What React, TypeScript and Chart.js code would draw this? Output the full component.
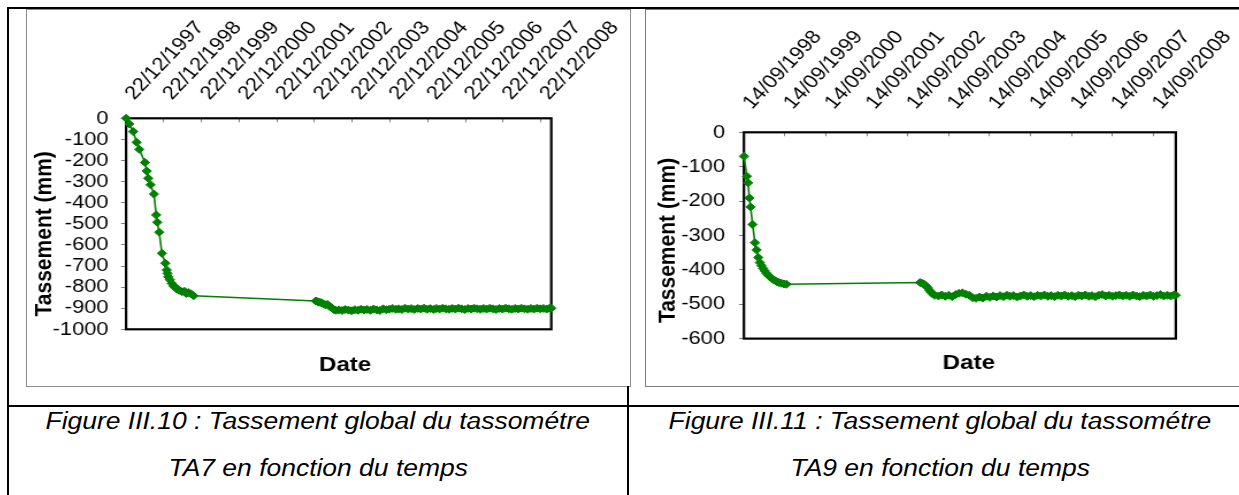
import React, { useEffect, useRef } from 'react';
import { Chart, registerables } from 'chart.js';

Chart.register(...registerables);

const FONT = "'Liberation Sans', Arial, Helvetica, sans-serif";
const STRETCH = 1.15;
const GREEN = '#008000';

// ---------- TA7 (Figure III.10) ----------
const ta7Dates = [
  '22/12/1997', '23/01/1998', '01/03/1998', '03/04/1998', '29/04/1998', '23/06/1998',
  '11/07/1998', '25/07/1998', '16/08/1998', '18/09/1998', '10/10/1998', '20/10/1998',
  '08/11/1998', '04/12/1998', '06/01/1999', '20/01/1999', '27/01/1999', '04/02/1999',
  '19/02/1999', '09/03/1999', '27/03/1999', '11/04/1999', '29/04/1999', '21/05/1999',
  '16/06/1999', '11/07/1999', '29/07/1999', '17/08/1999', '11/09/1999', '07/10/1999',
  '02/01/2003', '20/01/2003', '05/02/2003', '25/02/2003', '15/03/2003', '05/04/2003',
  '25/04/2003', '15/05/2003', '05/06/2003', '25/06/2003', '15/07/2003',
  '15/08/2003', '15/09/2003', '15/10/2003', '15/11/2003', '15/12/2003',
  '15/01/2004', '15/02/2004', '15/03/2004', '15/04/2004', '15/05/2004', '15/06/2004',
  '15/07/2004', '15/08/2004', '15/09/2004', '15/10/2004', '15/11/2004', '15/12/2004',
  '15/01/2005', '15/02/2005', '15/03/2005', '15/04/2005', '15/05/2005', '15/06/2005',
  '15/07/2005', '15/08/2005', '15/09/2005', '15/10/2005', '15/11/2005', '15/12/2005',
  '15/01/2006', '15/02/2006', '15/03/2006', '15/04/2006', '15/05/2006', '15/06/2006',
  '15/07/2006', '15/08/2006', '15/09/2006', '15/10/2006', '15/11/2006', '15/12/2006',
  '15/01/2007', '15/02/2007', '15/03/2007', '15/04/2007', '15/05/2007', '15/06/2007',
  '15/07/2007', '15/08/2007', '15/09/2007', '15/10/2007', '15/11/2007', '15/12/2007',
  '15/01/2008', '15/02/2008', '15/03/2008', '15/04/2008', '15/05/2008', '15/06/2008',
  '15/07/2008', '15/08/2008', '15/09/2008', '15/10/2008', '15/11/2008', '15/12/2008',
  '15/01/2009', '15/02/2009', '15/03/2009', '01/04/2009',
];
const ta7Values = [
  0, -27, -63, -114, -147, -209,
  -250, -284, -315, -359, -458, -493,
  -540, -640, -687, -719, -735, -751,
  -765, -782, -795, -800, -810, -815,
  -822, -820, -830, -826, -832, -841,
  -866, -869, -872, -874, -879, -884,
  -882, -891, -898, -906, -910,
  -908, -911, -906, -909, -912,
  -907, -910, -905, -909, -906, -910,
  -904, -908, -911, -903, -907, -905,
  -901, -905, -903, -906, -900, -904,
  -902, -906, -901, -904, -900, -905,
  -902, -906, -901, -904, -900, -903,
  -905, -901, -904, -900, -903, -906,
  -901, -904, -900, -903, -905, -901,
  -904, -900, -903, -906, -901, -904,
  -900, -903, -905, -901, -904, -900,
  -903, -905, -901, -904, -900, -903,
  -901, -904, -900, -900,
];
const ta7TickLabels = [
  '22/12/1997', '22/12/1998', '22/12/1999', '22/12/2000', '22/12/2001', '22/12/2002',
  '22/12/2003', '22/12/2004', '22/12/2005', '22/12/2006', '22/12/2007', '22/12/2008',
];
const ta7AxisEnd = '01/04/2009';
const ta7YMin = -1000;

// ---------- TA9 (Figure III.11) ----------
const ta9Dates = [
  '14/09/1998', '10/10/1998', '21/10/1998', '01/11/1998', '12/11/1998', '30/11/1998',
  '21/12/1998', '05/01/1999', '20/01/1999', '03/02/1999', '18/02/1999', '04/03/1999',
  '18/03/1999', '02/04/1999', '16/04/1999', '04/05/1999', '19/05/1999', '10/06/1999',
  '01/07/1999', '23/07/1999', '14/08/1999', '05/09/1999', '28/09/1999',
  '02/01/2003', '25/01/2003', '11/02/2003', '28/02/2003', '14/03/2003', '28/03/2003',
  '12/04/2003', '26/04/2003', '11/05/2003',
  '15/06/2003', '15/07/2003', '15/08/2003', '15/09/2003', '15/10/2003', '15/11/2003', '15/12/2003',
  '15/01/2004', '15/02/2004', '15/03/2004', '15/04/2004', '15/05/2004', '15/06/2004',
  '15/07/2004', '15/08/2004', '15/09/2004', '15/10/2004', '15/11/2004', '15/12/2004',
  '15/01/2005', '15/02/2005', '15/03/2005', '15/04/2005', '15/05/2005', '15/06/2005',
  '15/07/2005', '15/08/2005', '15/09/2005', '15/10/2005', '15/11/2005', '15/12/2005',
  '15/01/2006', '15/02/2006', '15/03/2006', '15/04/2006', '15/05/2006', '15/06/2006',
  '15/07/2006', '15/08/2006', '15/09/2006', '15/10/2006', '15/11/2006', '15/12/2006',
  '15/01/2007', '15/02/2007', '15/03/2007', '15/04/2007', '15/05/2007', '15/06/2007',
  '15/07/2007', '15/08/2007', '15/09/2007', '15/10/2007', '15/11/2007', '15/12/2007',
  '15/01/2008', '15/02/2008', '15/03/2008', '15/04/2008', '15/05/2008', '15/06/2008',
  '15/07/2008', '15/08/2008', '15/09/2008', '15/10/2008', '15/11/2008', '15/12/2008',
  '15/01/2009', '15/02/2009', '15/03/2009', '01/04/2009',
];
const ta9Values = [
  -70, -128, -147, -191, -217, -268,
  -321, -342, -364, -379, -388, -396,
  -403, -410, -415, -420, -425, -430,
  -434, -437, -439, -441, -442,
  -437, -440, -443, -448, -453, -460,
  -466, -470, -474,
  -476, -473, -477, -474, -478, -472, -468,
  -467, -471, -474, -481, -483, -479,
  -482, -477, -480, -476, -479, -475,
  -478, -474, -477, -475, -479, -476,
  -473, -477, -475, -478, -474, -476,
  -473, -477, -475, -478, -474, -476,
  -473, -477, -475, -478, -474, -476,
  -473, -477, -475, -478, -474, -472,
  -476, -474, -477, -475, -473, -476,
  -474, -477, -473, -476, -478, -474,
  -476, -473, -477, -475, -472, -476,
  -474, -476, -473, -474,
];
const ta9TickLabels = [
  '14/09/1998', '14/09/1999', '14/09/2000', '14/09/2001', '14/09/2002', '14/09/2003',
  '14/09/2004', '14/09/2005', '14/09/2006', '14/09/2007', '14/09/2008',
];
const ta9AxisEnd = '01/04/2009';
const ta9YMin = -600;

const yAxisTitle = 'Tassement (mm)';
const xAxisTitle = 'Date';
const captionTA7 = ['Figure III.10 : Tassement global du tassométre', 'TA7 en fonction du temps'];
const captionTA9 = ['Figure III.11 : Tassement global du tassométre', 'TA9 en fonction du temps'];

const dayOf = (s: string) => {
  const [d, m, y] = s.split('/').map(Number);
  return Date.UTC(y, m - 1, d) / 86400000;
};

// Draws the black plot frame, and nudges the axis-title boxes (not the data scales).
const framePlugin = {
  id: 'plotFrame',
  afterLayout(chart: any, _args: any, opts: any) {
    const xb = chart.scales.xb;
    if (xb && opts && opts.dateShift) {
      xb.left += opts.dateShift;
      xb.right += opts.dateShift;
    }
    const y = chart.scales.y;
    if (y && opts && opts.yTitleShift) {
      y.top += opts.yTitleShift;
      y.bottom += opts.yTitleShift;
    }
  },
  beforeDatasetsDraw(chart: any, _args: any, opts: any) {
    const { ctx, chartArea: a } = chart;
    ctx.save();
    ctx.strokeStyle = '#000';
    ctx.lineWidth = (opts && opts.lineWidth) || 2;
    ctx.strokeRect(a.left, a.top, a.right - a.left, a.bottom - a.top);
    ctx.restore();
  },
};

type Geom = {
  W: number; H: number; left: number;
  yWidth: number; xHeight: number; bottomH: number; padRight: number;
  yTitlePad: number; yTitleShift: number; yTickPad: number; xTickPad: number; xLabelOffset: number;
  dateShift: number; datePad: number;
};

const geomTA7: Geom = {
  W: 525, H: 379, left: 27,
  yWidth: 86.1, xHeight: 109.3, bottomH: 58.7, padRight: 69.3,
  yTitlePad: 3.1, yTitleShift: 10, yTickPad: 10.9, xTickPad: 17.9, xLabelOffset: 20.5,
  dateShift: 5.6, datePad: 10.4,
};
const geomTA9: Geom = {
  W: 522, H: 378, left: 646,
  yWidth: 85.2, xHeight: 123.3, bottomH: 48.4, padRight: 61.1,
  yTitlePad: 6.9, yTitleShift: 5, yTickPad: 12.1, xTickPad: 22.6, xLabelOffset: 20.5,
  dateShift: 7.8, datePad: 10.7,
};

function TassementChart(props: {
  dates: string[]; values: number[]; tickLabels: string[]; axisEnd: string; yMin: number; geom: Geom;
}) {
  const { dates, values, tickLabels, axisEnd, yMin, geom } = props;
  const ref = useRef<HTMLCanvasElement>(null);
  useEffect(() => {
    const tickDays = tickLabels.map(dayOf);
    const chart = new Chart(ref.current as HTMLCanvasElement, {
      type: 'line',
      data: {
        datasets: [
          {
            data: dates.map((d, i) => ({ x: dayOf(d), y: values[i] })),
            borderColor: GREEN,
            backgroundColor: GREEN,
            borderWidth: 1.6,
            pointStyle: 'rectRot',
            pointRadius: 4,
            pointBorderWidth: 1,
            pointBackgroundColor: GREEN,
            pointBorderColor: GREEN,
            tension: 0,
            clip: false,
          } as any,
        ],
      },
      options: {
        responsive: false,
        animation: false,
        events: [],
        layout: { padding: { left: 0, top: 0, bottom: 0, right: geom.padRight } },
        plugins: {
          legend: { display: false },
          tooltip: { enabled: false },
          plotFrame: { lineWidth: 2.2, dateShift: geom.dateShift, yTitleShift: geom.yTitleShift },
        } as any,
        scales: {
          x: {
            type: 'linear',
            position: 'top',
            min: tickDays[0],
            max: dayOf(axisEnd),
            afterBuildTicks: (s: any) => {
              s.ticks = tickDays.map((v) => ({ value: v }));
            },
            afterFit: (s: any) => {
              s.height = geom.xHeight;
              s.paddingLeft = 0;
              s.paddingRight = 0;
            },
            grid: { display: true, drawOnChartArea: false, drawTicks: true, tickLength: -4, color: '#808080', lineWidth: 1 },
            border: { display: false },
            ticks: {
              autoSkip: false,
              minRotation: 50,
              maxRotation: 50,
              padding: geom.xTickPad,
              labelOffset: geom.xLabelOffset,
              color: '#000',
              font: { family: FONT, size: 19 },
              callback: (_v: any, i: number) => tickLabels[i],
            },
          },
          xb: {
            type: 'linear',
            axis: 'x',
            position: 'bottom',
            grid: { display: false },
            border: { display: false },
            ticks: { display: false },
            afterFit: (s: any) => {
              s.height = geom.bottomH;
              s.paddingLeft = 0;
              s.paddingRight = 0;
            },
            title: {
              display: true,
              text: xAxisTitle,
              color: '#000',
              font: { family: FONT, size: 21, weight: 'bold' },
              padding: { top: 0, bottom: geom.datePad },
            },
          },
          y: {
            type: 'linear',
            position: 'left',
            min: yMin,
            max: 0,
            ticks: {
              stepSize: 100,
              autoSkip: false,
              padding: geom.yTickPad,
              color: '#000',
              font: { family: FONT, size: 19 },
              callback: (v: any) => String(v),
            },
            grid: { display: true, drawOnChartArea: false, drawTicks: true, tickLength: 4.35, color: '#808080', lineWidth: 1 },
            border: { display: false },
            afterFit: (s: any) => {
              s.width = geom.yWidth;
              s.paddingTop = 0;
              s.paddingBottom = 0;
            },
            title: {
              display: true,
              text: yAxisTitle,
              color: '#000',
              font: { family: FONT, size: 21, weight: 'bold' },
              padding: { top: geom.yTitlePad, bottom: 0 },
            },
          },
        } as any,
      },
      plugins: [framePlugin as any],
    });
    return () => chart.destroy();
  }, []);
  return (
    <canvas
      ref={ref}
      width={geom.W}
      height={geom.H}
      style={{ position: 'absolute', left: geom.left, top: 9, width: geom.W * STRETCH, height: geom.H }}
    />
  );
}

function Caption(props: { lines: string[]; left: number; width: number }) {
  const tops = [408.3, 454.8];
  return (
    <>
      {props.lines.map((t, i) => (
        <div
          key={i}
          style={{
            position: 'absolute',
            left: props.left,
            width: props.width,
            top: tops[i],
            textAlign: 'center',
            fontFamily: FONT,
            fontStyle: 'italic',
            fontSize: 23,
            lineHeight: '26px',
            color: '#000',
            whiteSpace: 'nowrap',
          }}
        >
          <span style={{ display: 'inline-block', transform: `scaleX(${STRETCH})`, transformOrigin: 'center' }}>{t}</span>
        </div>
      ))}
    </>
  );
}

const line = (s: React.CSSProperties): React.CSSProperties => ({ position: 'absolute', background: '#000', ...s });

export default function App() {
  return (
    <div style={{ position: 'fixed', left: 0, top: 0, width: 1239, height: 495, overflow: 'hidden', background: '#fff' }}>
      <div style={{ position: 'absolute', left: 26, top: 9, width: 605, height: 378, border: '1px solid #8c8c8c', boxSizing: 'border-box' }} />
      <div style={{ position: 'absolute', left: 645, top: 9, width: 700, height: 378, border: '1px solid #7a7a7a', boxSizing: 'border-box' }} />
      <TassementChart dates={ta7Dates} values={ta7Values} tickLabels={ta7TickLabels} axisEnd={ta7AxisEnd} yMin={ta7YMin} geom={geomTA7} />
      <TassementChart dates={ta9Dates} values={ta9Values} tickLabels={ta9TickLabels} axisEnd={ta9AxisEnd} yMin={ta9YMin} geom={geomTA9} />
      <div style={line({ left: 7, top: 7, width: 1232, height: 2 })} />
      <div style={line({ left: 7, top: 7, width: 2, height: 488 })} />
      <div style={line({ left: 7, top: 404.5, width: 1232, height: 2 })} />
      <div style={line({ left: 627, top: 386, width: 2, height: 109 })} />
      <Caption lines={captionTA7} left={9} width={618} />
      <Caption lines={captionTA9} left={629} width={622} />
    </div>
  );
}
